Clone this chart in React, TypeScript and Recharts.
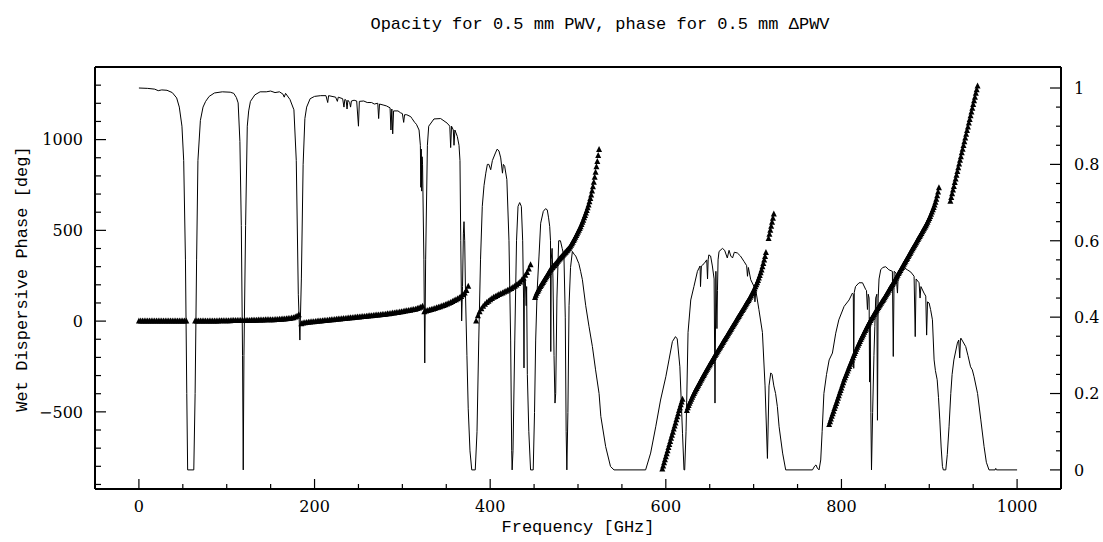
import React from 'react';
import { ComposedChart, Line, Scatter, XAxis, YAxis, ReferenceLine } from 'recharts';

// atmospheric transmission (right axis), [GHz, transmission]
const transLow: [number, number][] = [
  [0, 1.0], [10, 0.999], [18, 0.997], [22, 0.993], [26, 0.995], [32, 0.994], [38, 0.988], [43, 0.974],
  [46, 0.95], [49, 0.9], [51, 0.81], [53, 0.55], [54.5, 0.2], [55.5, 0], [62.5, 0], [64, 0.2],
  [65.7, 0.55], [67.2, 0.81], [70, 0.915], [73, 0.95], [76, 0.965], [80, 0.978], [86, 0.987], [95, 0.99],
  [104, 0.989], [108, 0.986], [111, 0.975], [113, 0.961], [115, 0.86], [116.6, 0.64], [118, 0.3], [118.8, 0],
  [119.6, 0.3], [121.5, 0.64], [123.4, 0.9], [125, 0.94], [127, 0.965], [132, 0.982], [138, 0.99], [145, 0.99],
  [150, 0.992], [155, 0.988], [160, 0.99], [164, 0.984], [165.5, 0.976], [167, 0.986], [172, 0.97], [176.5, 0.943],
  [179.2, 0.81], [181.5, 0.46], [183.3, 0.34], [185, 0.5],
];

const transMid: [number, number][] = [
  [187, 0.8], [189, 0.92], [191, 0.95], [195, 0.972], [200, 0.978], [207, 0.98], [213, 0.98], [215, 0.962],
  [216, 0.98], [224, 0.976], [226, 0.965], [227, 0.976], [232, 0.972], [233.5, 0.95], [234.5, 0.97], [236, 0.968],
  [237, 0.945], [238, 0.968], [240, 0.962], [241, 0.95], [242, 0.966], [245, 0.968], [248, 0.966], [250, 0.9],
  [251, 0.965], [256, 0.966], [260, 0.962], [265, 0.962], [268, 0.958], [272, 0.96], [273, 0.92], [274, 0.958],
  [279, 0.955], [282, 0.953], [286, 0.948], [287, 0.89], [288, 0.945], [289, 0.88], [290, 0.94], [295, 0.94],
  [298, 0.935], [300, 0.933], [301.5, 0.91], [302.5, 0.93], [305, 0.93], [309.5, 0.925], [311, 0.92], [314, 0.91],
  [316, 0.905], [319, 0.89], [320.5, 0.85], [321, 0.74], [321.5, 0.84], [322, 0.73], [322.5, 0.82], [323, 0.8],
  [324.5, 0.55], [325.5, 0.28], [326.5, 0.55], [328.5, 0.85], [330, 0.9], [336, 0.919], [343.6, 0.92], [351, 0.908],
  [354, 0.9], [355, 0.844], [356, 0.9], [358, 0.89], [358.8, 0.85], [359.8, 0.89], [362.6, 0.873], [364.5, 0.85],
  [365.6, 0.81], [366.5, 0.6], [367.5, 0.39], [368.5, 0.48], [369.5, 0.62], [370.2, 0.65], [371, 0.6], [372, 0.45],
  [373.5, 0.3], [375, 0.16], [377, 0.05], [379, 0],
];

const transHigh: [number, number][] = [
  [383, 0], [385, 0.1], [387, 0.34], [389, 0.55], [391, 0.69], [393, 0.745], [395, 0.777], [396.8, 0.8],
  [398.5, 0.8], [400.6, 0.786], [402.5, 0.81], [406, 0.83], [408, 0.84], [410, 0.835], [412, 0.817], [414, 0.777],
  [415, 0.8], [416.5, 0.795], [419, 0.76], [421.4, 0.6], [423.3, 0.34], [424.5, 0.05], [425, 0], [426, 0.05],
  [428, 0.34], [430, 0.6], [431.7, 0.69], [433.6, 0.7], [435.5, 0.69], [437, 0.6], [438, 0.45], [438.5, 0.267],
  [439, 0.5], [440, 0.5], [441, 0.43], [441.5, 0.48], [442.3, 0.25], [444, 0.1], [446, 0], [449, 0],
  [450.5, 0.15], [451.8, 0.34], [453.5, 0.47], [455.6, 0.56], [457.5, 0.646], [460.5, 0.677], [463, 0.684], [465, 0.681],
  [466.5, 0.66], [467.8, 0.637], [468.7, 0.6], [469, 0.31], [469.5, 0.55], [470.5, 0.58], [471.5, 0.5], [472.7, 0.3],
  [473.8, 0.175], [474.6, 0.2], [476, 0.45], [478, 0.6], [480, 0.6], [482, 0.58], [484, 0.56], [485.5, 0.4],
  [486.5, 0.1], [487.3, 0], [488.5, 0.15], [489.8, 0.43], [491.5, 0.53], [493.6, 0.572], [495.5, 0.565], [497.4, 0.56],
  [501, 0.54], [503, 0.52], [505, 0.498], [508.8, 0.43], [512.5, 0.376], [516.4, 0.323], [520, 0.262], [524, 0.2],
  [526, 0.14], [531.5, 0.061], [537, 0.009], [541, 0],
];

const transSub: [number, number][] = [
  [577, 0], [582.7, 0.044], [588.5, 0.113], [594, 0.183], [600, 0.244], [603.6, 0.288], [607.5, 0.336], [611, 0.349],
  [613, 0.343], [616, 0.27], [619, 0.096], [620.7, 0], [621.5, 0], [623, 0.1], [623.8, 0.183], [625.3, 0.36],
  [628.4, 0.445], [632, 0.48], [636, 0.52], [639, 0.534], [639.5, 0.48], [640.5, 0.534], [643.5, 0.54], [646.6, 0.55],
  [647.5, 0.5], [648.2, 0.55], [649, 0.563], [651, 0.56], [653, 0.534], [655, 0.5], [656, 0.175], [657, 0.52],
  [658.2, 0.37], [658.8, 0.47], [659.5, 0.55], [660.6, 0.572], [664.5, 0.58], [667, 0.575], [670, 0.555], [672, 0.575],
  [674, 0.56], [676, 0.555], [678, 0.57], [681.5, 0.568], [685, 0.56], [689, 0.546], [692, 0.535], [693, 0.507],
  [694, 0.53], [696.7, 0.498], [700.5, 0.48], [701.5, 0.44], [702.5, 0.47], [706, 0.42], [710, 0.36], [713, 0.22],
  [715.7, 0.03], [717.5, 0.22], [719.5, 0.254], [721, 0.25], [723, 0.22], [725, 0.2], [727, 0.166], [729, 0.113],
  [733, 0.044], [736.5, 0],
];

const transTop: [number, number][] = [
  [767, 0], [769.5, 0.01], [771, 0.013], [772.5, 0.005], [774.5, 0], [776.4, 0.026], [778, 0.1], [780, 0.2],
  [783, 0.25], [786, 0.288], [789.7, 0.306], [793.5, 0.358], [797, 0.393], [803, 0.428], [808.7, 0.445], [812.5, 0.463],
  [813.5, 0.46], [814, 0.266], [814.6, 0.465], [816, 0.48], [820, 0.49], [824, 0.49], [827.7, 0.472], [828.5, 0.47],
  [829.6, 0.42], [830.5, 0.46], [831.5, 0.45], [832, 0.23], [832.7, 0.4], [833.5, 0.15], [834.2, 0], [835.5, 0.15],
  [837, 0.3], [838, 0.375], [839, 0.45], [840.3, 0.46], [841, 0.13], [841.8, 0.45], [842.8, 0.5], [844.7, 0.524],
  [847, 0.53], [850.4, 0.532], [854, 0.524], [858, 0.52], [859, 0.297], [860, 0.52], [862, 0.516], [863.8, 0.463],
  [864.8, 0.52], [867.5, 0.528], [871, 0.53], [875, 0.524], [879, 0.518], [882.7, 0.507], [884, 0.349], [885, 0.5],
  [888.4, 0.49], [889.5, 0.45], [890.5, 0.48], [894, 0.463], [896, 0.455], [897, 0.353], [898, 0.44], [899.8, 0.437],
  [901.5, 0.42], [903.6, 0.393], [905.5, 0.288], [907, 0.26], [909, 0.236], [910.5, 0.19], [912, 0.131], [913.5, 0.06],
  [915, 0.009], [916, 0], [918.8, 0], [920.5, 0.04], [922.5, 0.113], [924.5, 0.2], [926, 0.25], [928, 0.288],
  [932, 0.332], [933.5, 0.34], [934.7, 0.293], [935.5, 0.34], [936, 0.345], [938.5, 0.335], [941.5, 0.323], [944, 0.3],
  [947, 0.27], [949, 0.262], [951, 0.244], [955, 0.2], [958.7, 0.131], [962.4, 0.061], [965, 0.02], [968, 0],
  [975, 0], [975.7, 0.004], [976.5, 0], [1000, 0],
];

// wet dispersive phase (left axis), one array per unwrapped window
// each: first frequency, step in GHz, values in deg
const phaseA = { start: 0, step: 2, values: [
  0, 0, 0, 0, 0, 0, 0, 0, 0, 0, 0, 0, 0, 0, 0, 0, 0, 0, 0, 0, 0, 0, 0, 0, 0, 0, 0, 0,
] };
const phaseB = { start: 64, step: 2, values: [
  0, 0, 0, 0, 0, 0, 1, 1, 1, 1, 1, 1, 1, 1, 2, 2, 2, 2, 2, 2, 2, 3, 3, 3, 3, 3, 3, 4, 4, 4,
  4, 4, 5, 5, 5, 5, 6, 6, 6, 6, 7, 7, 7, 8, 8, 8, 9, 9, 10, 10, 11, 12, 13, 14, 15, 17, 19, 22, 27, 35,
] };
const phaseC = { start: 185, step: 2, values: [
  -15, -11, -9, -7, -6, -5, -4, -3, -2, -1, 0, 1, 2, 3, 4, 5, 6, 7, 8, 9, 10, 11, 12, 13, 14, 15, 16, 17, 18, 19,
  20, 21, 22, 23, 24, 25, 26, 27, 28, 29, 30, 31, 32, 33, 34, 35, 36, 37, 38, 40, 41, 42, 44, 45, 47, 48, 50, 51, 53, 55,
  57, 58, 60, 62, 64, 66, 69, 72, 76, 82,
] };
const phaseD = { start: 325, step: 2, values: [
  52, 55, 58, 61, 64, 67, 70, 73, 76, 79, 83, 86, 90, 94, 98, 103, 108, 113, 118, 123, 129, 136, 145, 155, 168, 192,
] };
const phaseE = { start: 384, step: 2, values: [
  0, 30, 52, 68, 82, 93, 102, 110, 118, 125, 131, 136, 141, 146, 151, 155, 160, 165, 170, 175, 180, 186, 192, 199,
  207, 216, 226, 238, 252, 268, 287, 310,
] };
const phaseF = { start: 451, step: 1, values: [
  130, 142, 153, 163, 172, 181, 190, 198, 206, 213, 221, 229, 237, 245, 253, 261, 269, 277, 285, 291,
  296, 302, 307, 313, 318, 324, 330, 336, 342, 348, 353, 359, 364, 370, 375, 380, 386, 391, 397, 402,
  410, 418, 426, 435, 444, 453, 462, 472, 481, 491, 500, 510, 520, 532, 544, 556, 569, 582, 596, 610,
  625, 640, 657, 675, 695, 717, 740, 765, 792, 820, 850, 880, 912, 945,
] };
const phaseG = { start: 596, step: 1, values: [
  -815, -798, -781, -764, -748, -731, -714, -697, -680, -663, -646, -629, -612, -595, -578, -561, -544, -527,
  -510, -493, -477, -461, -446, -430,
] };
const phaseH = { start: 624, step: 1, values: [
  -492, -478, -465, -453, -441, -430, -419, -409, -399, -389, -380, -371, -362, -353, -344, -335, -326, -317,
  -308, -299, -291, -282, -274, -265, -257, -248, -240, -231, -223, -215, -206, -198, -190, -182, -174, -166,
  -158, -150, -142, -134, -126, -118, -110, -102, -94, -86, -78, -70, -62, -54, -46, -38, -30, -22,
  -14, -6, 2, 10, 18, 26, 34, 42, 50, 58, 66, 74, 82, 90, 98, 106, 114, 122,
  131, 140, 149, 158, 168, 178, 189, 200, 212, 224, 237, 251, 266, 282, 299, 317, 336, 356, 378,
] };
const phaseI = { start: 717, step: 1, values: [455, 478, 500, 522, 545, 567, 590] };
const phaseJ = { start: 786, step: 1, values: [
  -569, -554, -539, -524, -510, -496, -482, -468, -454, -440, -425, -411, -396, -382, -368, -354, -339, -325,
  -312, -300, -287, -275, -263, -250, -238, -226, -214, -202, -190, -178, -167, -155, -144, -133, -123, -112,
  -102, -92, -82, -72, -62, -52, -43, -33, -24, -15, -6, 3, 11, 20, 28, 36, 44, 52, 60, 68, 75, 83, 90, 98,
  106, 114, 121, 129, 137, 145, 153, 161, 170, 178, 186, 194, 202, 210, 218, 227, 236, 244, 253, 262,
  271, 279, 288, 296, 305, 313, 322, 330, 339, 347, 356, 364, 373, 381, 390, 398, 407, 415, 424, 432,
  441, 449, 458, 466, 475, 483, 492, 500, 509, 517, 526, 535, 545, 555, 566, 577, 589, 601, 613, 626,
  640, 655, 672, 690, 712, 735,
] };
const phaseK = { start: 924, step: 1, values: [
  660, 681, 701, 722, 742, 763, 783, 804, 824, 845, 865, 886, 906, 927, 947, 968, 988, 1009, 1029, 1050,
  1070, 1091, 1111, 1132, 1152, 1173, 1193, 1214, 1234, 1255, 1275, 1296,
] };

const xTicks = [0, 50, 100, 150, 200, 250, 300, 350, 400, 450, 500, 550, 600, 650, 700, 750, 800, 850, 900, 950, 1000];
const leftTicks = [-900, -800, -700, -600, -500, -400, -300, -200, -100, 0, 100, 200, 300, 400, 500, 600, 700, 800, 900, 1000, 1100, 1200, 1300];
const rightTicks = [0, 0.05, 0.1, 0.15, 0.2, 0.25, 0.3, 0.35, 0.4, 0.45, 0.5, 0.55, 0.6, 0.65, 0.7, 0.75, 0.8, 0.85, 0.9, 0.95, 1];

const transData = [...transLow, ...transMid, ...transHigh, ...transSub, ...transTop].map(([f, t]) => ({ f, t }));
const phaseData = [phaseA, phaseB, phaseC, phaseD, phaseE, phaseF, phaseG, phaseH, phaseI, phaseJ, phaseK].flatMap((s) =>
  s.values.map((p, i) => ({ f: s.start + i * s.step, p }))
);

const FONT = '"Liberation Mono", "DejaVu Sans Mono", monospace';
const NUM_FONT = '"DejaVu Serif", serif';
const PAGE_W = 1103;
const PAGE_H = 542;
const W = 1095;
const H = 526;

const XTick = (props: any) => {
  const { x, y, payload } = props;
  const v = payload.value;
  const major = v % 200 === 0;
  return (
    <g>
      <line x1={x} y1={y} x2={x} y2={y - (major ? 10 : 5)} stroke="#000" strokeWidth={1.2} />
      {major && (
        <text x={x} y={y + 23} textAnchor="middle" fontFamily={NUM_FONT} fontSize={16} fill="#000">
          {v}
        </text>
      )}
    </g>
  );
};

const LeftTick = (props: any) => {
  const { x, y, payload } = props;
  const v = payload.value;
  const major = v % 500 === 0;
  return (
    <g>
      <line x1={x} y1={y} x2={x + (major ? 11 : 6)} y2={y} stroke="#000" strokeWidth={1.2} />
      {major && (
        <text x={x - 12} y={y} dy="0.36em" textAnchor="end" fontFamily={NUM_FONT} fontSize={16} fill="#000">
          {v < 0 ? '\u2212' + Math.abs(v) : v}
        </text>
      )}
    </g>
  );
};

const RightTick = (props: any) => {
  const { x, y, payload } = props;
  const v = payload.value;
  const major = Math.round(v * 100) % 20 === 0;
  const label = v === 0 ? '0' : v === 1 ? '1' : v.toFixed(1);
  return (
    <g>
      <line x1={x} y1={y} x2={x - (major ? 11 : 5)} y2={y} stroke="#000" strokeWidth={1.2} />
      {major && (
        <text x={x + 13} y={y} dy="0.36em" textAnchor="start" fontFamily={NUM_FONT} fontSize={16} fill="#000">
          {label}
        </text>
      )}
    </g>
  );
};

const Triangle = (props: any) => {
  const { cx, cy } = props;
  if (cx == null || cy == null) return null;
  return <path d={`M${cx},${cy - 3.5}L${cx - 3},${cy + 2.5}L${cx + 3},${cy + 2.5}Z`} fill="#000" />;
};

const textStyle: React.CSSProperties = {
  position: 'absolute',
  fontFamily: FONT,
  fontSize: 17,
  lineHeight: 1,
  color: '#000',
  whiteSpace: 'nowrap',
  transform: 'translate(-50%, -50%)',
};

export default function App() {
  return (
    <div style={{ position: 'relative', width: PAGE_W, height: PAGE_H, overflow: 'hidden', background: '#fff' }}>
      <style>{'html, body { margin: 0; padding: 0; overflow: hidden; }'}</style>
      <div style={{ ...textStyle, left: 600, top: 24 }}>Opacity for 0.5 mm PWV, phase for 0.5 mm ΔPWV</div>
      <div style={{ ...textStyle, left: 578, top: 527 }}>Frequency [GHz]</div>
      <div style={{ ...textStyle, left: 22, top: 279, transform: 'translate(-50%, -50%) rotate(-90deg)' }}>
        Wet Dispersive Phase [deg]
      </div>
      <div style={{ position: 'absolute', left: 8, top: 8 }}>
        <ComposedChart width={W} height={H} margin={{ top: 59, right: 0, bottom: 0, left: 0 }}>
          <XAxis
            type="number"
            dataKey="f"
            domain={[-50, 1050]}
            ticks={xTicks}
            interval={0}
            allowDataOverflow
            height={45}
            tickSize={0}
            tickMargin={0}
            tickLine={false}
            axisLine={{ stroke: '#000', strokeWidth: 2 }}
            tick={<XTick />}
          />
          <YAxis
            yAxisId="left"
            type="number"
            dataKey="p"
            domain={[-925, 1400]}
            ticks={leftTicks}
            interval={0}
            allowDataOverflow
            width={87}
            tickSize={0}
            tickMargin={0}
            tickLine={false}
            axisLine={{ stroke: '#000', strokeWidth: 2 }}
            tick={<LeftTick />}
          />
          <YAxis
            yAxisId="right"
            orientation="right"
            type="number"
            dataKey="t"
            domain={[-0.05, 1.055]}
            ticks={rightTicks}
            interval={0}
            allowDataOverflow
            width={42}
            tickSize={0}
            tickMargin={0}
            tickLine={false}
            axisLine={{ stroke: '#000', strokeWidth: 2 }}
            tick={<RightTick />}
          />
          <ReferenceLine yAxisId="left" y={1400} stroke="#000" strokeWidth={2} />
          <Line
            yAxisId="right"
            data={transData}
            dataKey="t"
            type="linear"
            stroke="#000"
            strokeWidth={1}
            dot={false}
            activeDot={false}
            isAnimationActive={false}
          />
          <Scatter
            yAxisId="left"
            data={phaseData}
            dataKey="p"
            fill="#000"
            shape={<Triangle />}
            isAnimationActive={false}
          />
        </ComposedChart>
      </div>
    </div>
  );
}
